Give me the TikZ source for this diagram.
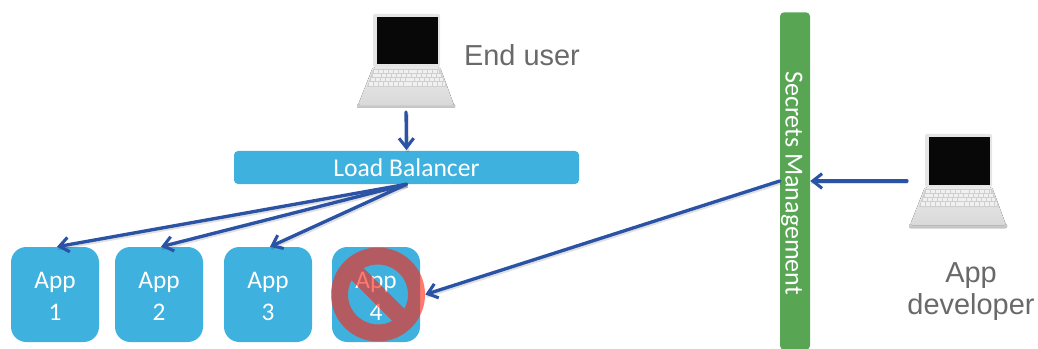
\documentclass[tikz,border=0pt]{standalone}
\usepackage{fontspec}
\setmainfont{Carlito}
\newfontfamily\labelfont{Liberation Sans}
\usetikzlibrary{arrows.meta}
\definecolor{boxblue}{RGB}{63,177,222}
\definecolor{secgreen}{RGB}{88,166,84}
\definecolor{arrowblue}{RGB}{42,82,165}
\definecolor{labelgray}{RGB}{105,105,105}
\definecolor{banred}{RGB}{255,38,18}
\newcommand\applabel[1]{\rule{0pt}{15.5pt}App\\#1}
\tikzset{
  x=0.75pt,y=-0.75pt,
  appbox/.style={draw=none,fill=boxblue,rounded corners=11.5pt,minimum width=66pt,minimum height=71.25pt,inner sep=0pt,
    text=white,align=center,font=\fontsize{19}{24}\selectfont},
  laptopbox/.style={minimum width=73.5pt,minimum height=70.5pt,inner sep=0pt,outer sep=0pt},
  wire/.style={draw=arrowblue,line width=2.5pt,line cap=round,
    -{Straight Barb[length=7pt,width=11pt,line width=2.3pt]},
    preaction={draw=black,draw opacity=.12,line width=2.8pt,-,transform canvas={shift={(0.8pt,-1.2pt)}}}},
  sidelabel/.style={text=labelgray,align=center,inner sep=0pt,font=\labelfont\fontsize{21.7}{24.5}\selectfont},
  laptop/.pic={
    % base
    \fill[rounded corners=1pt,top color=gray!35,bottom color=gray!50] (0,90)--(98,90)--(98,94)--(0,94)--cycle;
    \fill[top color=gray!16,bottom color=gray!30,rounded corners=1.5pt] (16,53)--(83,53)--(97,91)--(1,91)--cycle;
    \fill[gray!38] (16,55)--(83,55)--(90,73)--(10,73)--cycle;
    \draw[white!88!gray,line width=2.5pt,dash pattern=on 3pt off .7pt] (17,57.5)--(82,57.5);
    \draw[white!88!gray,line width=2.5pt,dash pattern=on 3pt off .7pt] (15.5,61.5)--(84,61.5);
    \draw[white!88!gray,line width=2.5pt,dash pattern=on 3pt off .7pt] (14,65.5)--(85.5,65.5);
    \draw[white!88!gray,line width=2.5pt,dash pattern=on 3pt off .7pt] (12,70)--(88,70);
    % lid
    \fill[rounded corners=1pt,gray!20] (16,0) rectangle (83,53);
    \fill[black!97] (19.5,3) rectangle (80.5,50.5);
  }
}
\begin{document}
\begin{tikzpicture}
\useasboundingbox (0,0) rectangle (1038,349);
\node[laptopbox] (user) at (406,61) {};
\pic at (user.north west) {laptop};
\node[laptopbox] (dev) at (958,181) {};
\pic at (dev.north west) {laptop};
\node[sidelabel,anchor=center] (enduser) at (522,55) {End user};
\node[sidelabel,anchor=center] (devlabel) at (971,291.5) {App\\developer};
\node[fill=boxblue,rounded corners=3pt,minimum width=258.75pt,minimum height=24.75pt,inner sep=0pt,
  text=white,font=\fontsize{19.2}{22}\selectfont] (lb) at (406.5,167.5) {Load Balancer};
\node[appbox] (app1) at (55,294.5) {\applabel{1}};
\node[appbox] (app2) at (159,294.5) {\applabel{2}};
\node[appbox] (app3) at (268,294.5) {\applabel{3}};
\node[appbox] (app4) at (376,294.5) {\applabel{4}};
\node[fill=secgreen,rounded corners=3pt,minimum width=253pt,minimum height=22.5pt,inner sep=0pt,rotate=-90,
  text=white,font=\fontsize{19.5}{22}\selectfont] (sec) at (795,181) {\hspace{3pt}\raisebox{-7pt}[0pt][0pt]{Secrets Management}};
% no-entry sign
\node[circle,minimum size=70.5pt,inner sep=0pt] (ban) at (378,294.5) {};
\begin{scope}[shift={(ban.center)},rotate=-45]
  \fill[banred,fill opacity=.61,even odd rule]
    (0,0) circle[radius=47]
    (16.7:30) arc[start angle=16.7,end angle=163.3,radius=30] -- cycle
    (196.7:30) arc[start angle=196.7,end angle=343.3,radius=30] -- cycle;
\end{scope}
% connectors
\draw[wire,shorten <=3pt,shorten >=.5pt] (user.south) -- (lb.north);
\draw[wire] (lb.south) -- ([xshift=1.5pt]app1.north);
\draw[wire] (lb.south) -- ([xshift=1.5pt]app2.north);
\draw[wire] (lb.south) -- ([xshift=1.5pt]app3.north);
\draw[wire] (sec.south) -- (ban.east);
\draw[wire,shorten <=1.5pt] (dev.west) -- (sec.north);
\end{tikzpicture}
\end{document}
